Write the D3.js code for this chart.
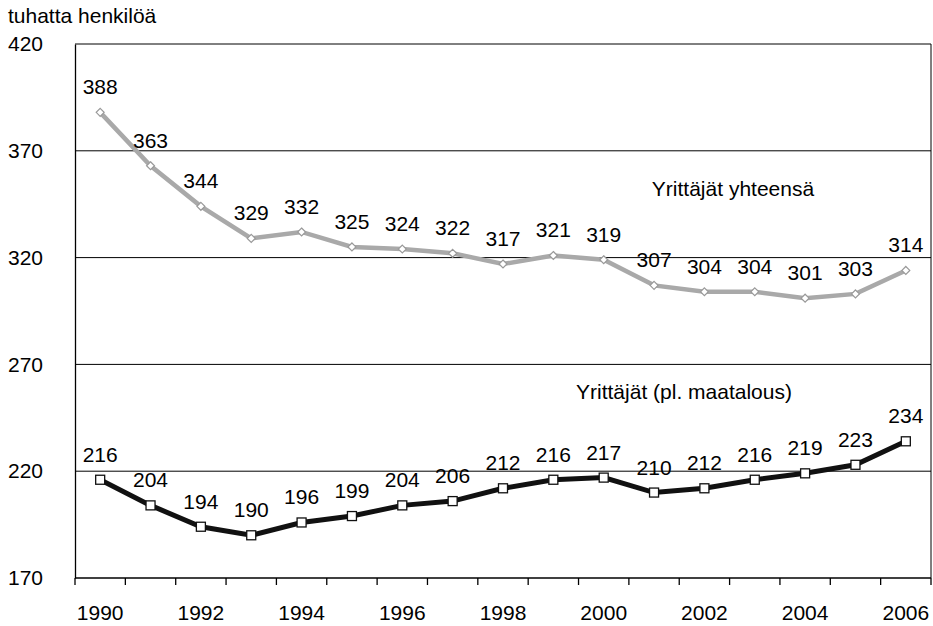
<!DOCTYPE html>
<html>
<head>
<meta charset="utf-8">
<script src="https://cdn.jsdelivr.net/npm/d3@7"></script>
<style>
  body { margin: 0; background: #fff; }
  text { font-family: "Liberation Sans", Arial, sans-serif; fill: #000; }
</style>
</head>
<body>
<svg></svg>
<script>
const years = d3.range(1990, 2007);
const yhteensa = [388, 363, 344, 329, 332, 325, 324, 322, 317, 321, 319, 307, 304, 304, 301, 303, 314];
const plMaatalous = [216, 204, 194, 190, 196, 199, 204, 206, 212, 216, 217, 210, 212, 216, 219, 223, 234];
const yTicks = [170, 220, 270, 320, 370, 420];
const xLabels = [1990, 1992, 1994, 1996, 1998, 2000, 2002, 2004, 2006];

let w = 933, h = 626;
const fs = "21px";
const svg = d3.select("svg").attr("width", w).attr("height", h);

const mLeft = 75, mRight = 931, mTop = 44, mBottom = 578;

const x = d3.scaleBand().domain(years).range([mLeft, mRight]);
const y = d3.scaleLinear().domain([170, 420]).range([mBottom, mTop]);
const cx = d => x(d) + x.bandwidth() / 2;

// grid lines
svg.append("g").selectAll("line")
  .data(yTicks.filter(t => t > 170))
  .enter().append("line")
  .attr("x1", mLeft).attr("x2", mRight)
  .attr("y1", d => y(d)).attr("y2", d => y(d))
  .attr("stroke", "#000").attr("stroke-width", 1);

// right border
svg.append("line").attr("x1", mRight).attr("x2", mRight)
  .attr("y1", mTop).attr("y2", mBottom).attr("stroke", "#000");

// y axis
const yAxis = svg.append("g").attr("transform", `translate(${mLeft},0)`)
  .call(d3.axisLeft(y).tickValues(yTicks).tickSize(0).tickPadding(0));
yAxis.select(".domain").attr("stroke", "#000").attr("stroke-width", 1.3);
yAxis.selectAll(".tick text")
  .attr("x", 8 - mLeft).attr("text-anchor", "start")
  .style("font-size", fs).style("font-family", "Liberation Sans, Arial, sans-serif").style("fill", "#000");

// x axis
const xAxis = svg.append("g").attr("transform", `translate(0,${mBottom})`)
  .call(d3.axisBottom(x).tickSize(0).tickFormat(""));
xAxis.select(".domain").attr("d", `M${mLeft},0H${mRight}`).attr("stroke", "#000").attr("stroke-width", 1.3);
xAxis.selectAll(".tick").remove();
xAxis.selectAll("line.tk")
  .data(years.map(d => x(d)).concat([mRight]))
  .enter().append("line").attr("class", "tk")
  .attr("x1", d => d).attr("x2", d => d)
  .attr("y1", 0).attr("y2", 7).attr("stroke", "#000").attr("stroke-width", 1.3);
xAxis.selectAll("text.yl")
  .data(xLabels)
  .enter().append("text").attr("class", "yl")
  .attr("x", d => cx(d)).attr("y", 42)
  .attr("text-anchor", "middle")
  .style("font-size", fs)
  .text(d => d);

// title
svg.append("text").attr("x", 8).attr("y", 23)
  .style("font-size", fs).text("tuhatta henkilöä");

const line = d3.line().x((d, i) => cx(years[i])).y(d => y(d));

// gray series
svg.append("path").datum(yhteensa)
  .attr("d", line).attr("fill", "none")
  .attr("stroke", "#a9a9a9").attr("stroke-width", 4.5);
svg.append("g").selectAll("path")
  .data(yhteensa).enter().append("path")
  .attr("d", d3.symbol(d3.symbolDiamond2, 40))
  .attr("transform", (d, i) => `translate(${cx(years[i])},${y(d)})`)
  .attr("fill", "#fff").attr("stroke", "#999").attr("stroke-width", 1.2);

// black series
svg.append("path").datum(plMaatalous)
  .attr("d", line).attr("fill", "none")
  .attr("stroke", "#111").attr("stroke-width", 5);
svg.append("g").selectAll("rect")
  .data(plMaatalous).enter().append("rect")
  .attr("x", (d, i) => cx(years[i]) - 4.5)
  .attr("y", d => y(d) - 4.5)
  .attr("width", 9).attr("height", 9)
  .attr("fill", "#fff").attr("stroke", "#111").attr("stroke-width", 1.3);

// value labels
function labels(data) {
  svg.append("g").selectAll("text")
    .data(data).enter().append("text")
    .attr("x", (d, i) => cx(years[i]))
    .attr("y", d => y(d) - 18)
    .attr("text-anchor", "middle")
    .style("font-size", fs)
    .text(d => d);
}
labels(yhteensa);
labels(plMaatalous);

// series names
svg.append("text").attr("x", 733).attr("y", 196).attr("text-anchor", "middle")
  .style("font-size", fs).text("Yrittäjät yhteensä");
svg.append("text").attr("x", 684).attr("y", 399).attr("text-anchor", "middle")
  .style("font-size", fs).text("Yrittäjät (pl. maatalous)");
</script>
</body>
</html>
